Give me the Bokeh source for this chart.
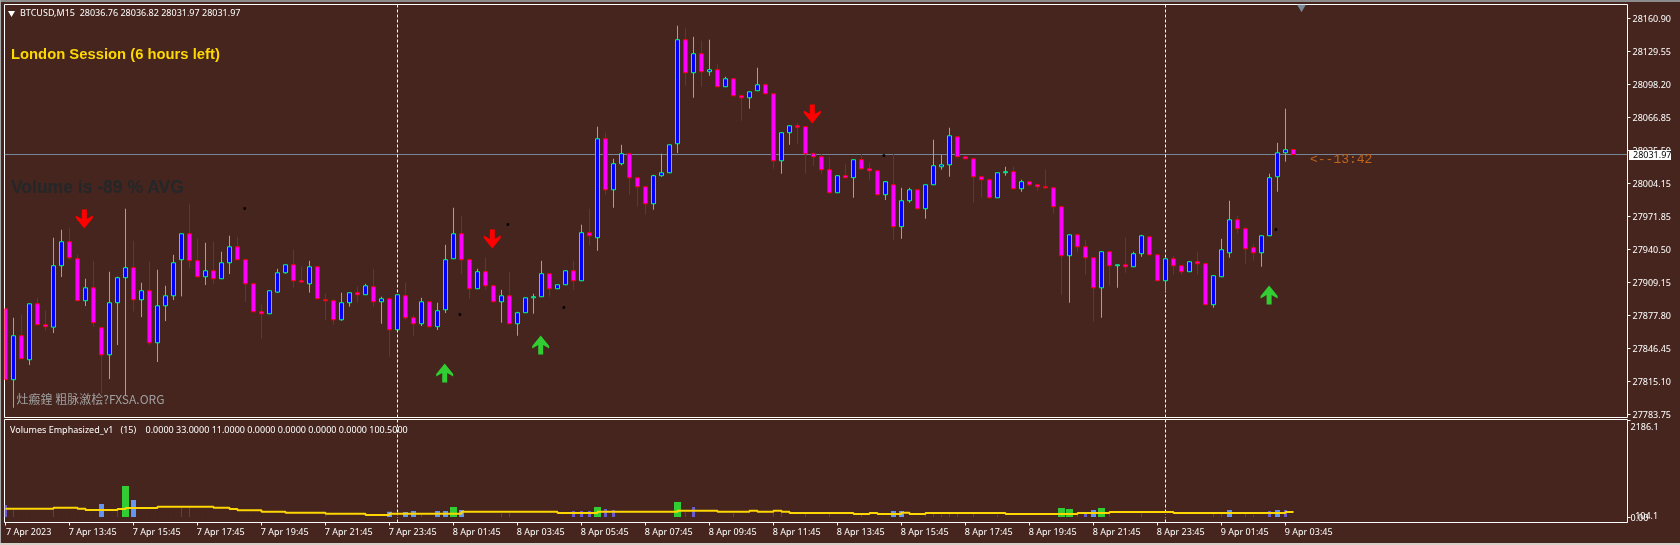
from bokeh.plotting import figure
from bokeh.models import (ColumnDataSource, FixedTicker, Label, Span, LinearAxis, Range1d, Div)
from bokeh.layouts import column
from bokeh.embed import file_html
from bokeh.resources import INLINE

highs = [
27885.3,27876.7,27879.9,27890.0,27895.7,27883.7,27952.8,27960.4,27962.3,27936.6,
27913.8,27930.9,27867.2,27920.5,27915.7,27980.4,27949.9,27910.0,27930.0,27922.4,
27907.1,27936.6,27956.6,27985.1,27951.8,27948.0,27949.0,27939.5,27954.7,27953.7,
27931.9,27909.0,27889.4,27902.4,27923.3,27927.1,27941.4,27925.2,27930.9,27925.2,
27899.5,27894.8,27900.5,27900.5,27906.2,27909.0,27923.3,27896.7,27895.7,27898.6,
27910.0,27879.6,27895.7,27891.9,27891.0,27946.1,27981.3,27973.7,27932.8,27923.3,
27933.8,27908.1,27903.3,27920.5,27882.4,27895.7,27899.5,27930.9,27918.6,27908.1,
27921.4,27930.9,27965.2,27980.4,28058.4,28052.7,28027.9,28041.2,28033.6,28009.9,
28001.3,28012.7,28032.7,28041.2,28154.4,28152.5,28143.9,28140.1,28141.1,28118.3,
28105.9,28105.0,28088.8,28091.6,28114.5,28100.2,28089.7,28052.7,28059.3,28062.2,
28058.4,28034.6,28032.7,28029.8,28011.8,28022.5,28027.0,28032.7,28024.1,28016.5,
28006.1,28032.7,28000.3,28000.3,27998.4,28003.2,28046.0,28031.7,28057.4,28048.8,
28030.8,28028.9,28010.8,28008.0,28014.6,28020.3,28020.3,28008.0,28006.1,28004.1,
28017.5,28000.3,27982.3,27955.6,27955.6,27950.9,27933.8,27939.5,27939.5,27927.1,
27952.8,27939.5,27955.6,27953.7,27936.6,27932.8,27935.7,27926.2,27930.0,27939.5,
27928.1,27916.7,27951.8,27988.0,27973.7,27963.3,27947.1,27954.7,28013.7,28043.1,
28075.5,28036.82]
body_tops = [
27885.3,27859.6,27859.6,27890.0,27890.0,27870.1,27926.2,27949.0,27949.0,27932.8,
27905.2,27905.2,27867.2,27891.0,27914.8,27924.3,27924.3,27902.4,27902.4,27888.1,
27897.6,27929.0,27956.6,27956.6,27930.9,27921.4,27921.4,27929.0,27944.2,27944.2,
27931.9,27909.0,27882.4,27902.4,27919.5,27927.1,27927.1,27911.9,27925.2,27925.2,
27893.8,27892.9,27891.0,27900.5,27900.5,27907.1,27906.2,27894.8,27894.8,27898.6,
27897.6,27876.7,27891.9,27891.9,27883.4,27931.9,27956.6,27956.6,27931.9,27920.5,
27920.5,27907.1,27897.6,27897.6,27881.5,27895.7,27896.7,27918.6,27918.6,27908.1,
27921.4,27921.4,27957.6,27957.6,28046.9,28046.9,28023.2,28032.7,28032.7,28009.9,
28001.3,28011.8,28014.6,28041.2,28141.1,28141.1,28127.8,28127.8,28112.6,28112.6,
28104.0,28104.0,28087.8,28091.6,28098.3,28098.3,28089.7,28052.7,28059.3,28059.3,
28058.4,28032.7,28029.8,28017.5,28011.8,28011.8,28027.0,28027.0,28018.4,28016.5,
28006.1,28003.2,27988.0,27998.4,27998.4,28003.2,28021.3,28022.2,28049.8,28048.8,
28029.8,28027.9,28010.8,28008.0,28014.6,28015.6,28015.6,28006.1,28006.1,28003.2,
28001.3,28000.3,27982.3,27955.6,27955.6,27944.2,27933.8,27939.5,27939.5,27927.1,
27927.1,27937.6,27954.7,27953.7,27936.6,27932.8,27932.8,27926.2,27930.0,27930.0,
27928.1,27916.7,27941.4,27969.9,27969.9,27961.4,27943.3,27954.7,28009.9,28033.6,
28036.5,28036.76]
body_bottoms = [
27817.8,27817.8,27837.7,27836.8,27870.1,27868.2,27867.8,27926.2,27933.8,27892.9,
27892.9,27872.0,27841.5,27841.5,27891.0,27914.8,27893.8,27893.8,27852.9,27852.9,
27888.1,27897.6,27931.9,27931.2,27915.7,27915.7,27913.8,27913.8,27929.0,27931.9,
27909.0,27882.4,27880.5,27880.5,27901.1,27919.5,27911.9,27910.6,27909.0,27894.8,
27892.9,27874.8,27874.8,27891.0,27898.6,27898.6,27891.9,27891.9,27865.3,27865.3,
27876.7,27871.0,27871.0,27868.2,27868.2,27884.3,27932.8,27931.9,27904.3,27904.3,
27907.1,27891.9,27891.9,27871.0,27871.0,27881.5,27895.7,27896.7,27904.3,27904.3,
27908.1,27911.9,27911.9,27954.7,27952.8,27998.4,27998.4,28023.2,28009.9,28001.3,
27985.1,27985.1,28011.8,28014.6,28042.2,28109.7,28109.7,28110.7,28110.7,28096.4,
28096.4,28087.8,28085.9,28085.9,28092.6,28089.7,28026.0,28026.0,28052.7,28058.0,
28032.7,28029.8,28017.5,27995.6,27995.6,28009.9,28009.9,28018.4,28016.5,27993.7,
27993.7,27963.3,27963.3,27988.0,27980.4,27980.4,28003.2,28020.3,28022.2,28029.8,
28027.9,28010.8,28008.0,27990.8,27990.8,28014.6,27999.4,27999.4,28003.2,28001.3,
28000.3,27982.3,27935.7,27935.7,27944.2,27933.8,27905.2,27905.2,27926.2,27926.2,
27925.2,27925.2,27937.6,27936.6,27911.9,27911.9,27926.2,27920.5,27920.5,27928.1,
27889.1,27889.1,27915.7,27938.5,27961.4,27942.3,27938.5,27938.5,27954.7,28010.8,
28033.6,28031.97]
lows = [
27817.8,27791.1,27837.7,27831.7,27870.1,27864.0,27862.1,27915.4,27931.9,27892.9,
27887.8,27867.8,27804.4,27818.4,27850.7,27802.9,27882.7,27877.3,27850.7,27834.6,
27873.5,27893.5,27897.0,27923.9,27914.8,27907.8,27908.7,27913.8,27918.2,27931.9,
27891.6,27882.4,27856.4,27880.5,27900.5,27918.6,27905.2,27910.6,27900.5,27894.8,
27874.8,27870.1,27873.9,27887.2,27891.0,27898.6,27887.2,27871.0,27839.6,27865.3,
27874.8,27859.6,27868.8,27867.2,27865.0,27881.2,27932.8,27918.2,27894.8,27904.3,
27903.3,27891.9,27872.0,27871.0,27859.6,27881.5,27880.5,27896.7,27896.7,27904.3,
27908.1,27903.3,27911.9,27945.8,27940.4,27993.7,27981.3,28021.6,27993.7,27982.3,
27974.7,27979.4,28010.8,28014.6,28033.3,28097.3,28085.9,28096.1,28106.9,28096.4,
28096.4,28087.8,28064.1,28075.5,28092.6,28089.7,28018.4,28013.7,28041.2,28042.2,
28013.7,28021.0,28013.7,27994.6,27995.6,28009.9,27990.8,28017.5,28008.0,27992.7,
27988.6,27950.9,27951.8,27986.1,27979.4,27970.9,28003.2,28017.5,28010.8,28029.8,
28027.9,27986.1,27990.8,27990.8,27990.8,28011.8,27999.4,27996.5,28001.3,27997.5,
27999.4,27975.6,27898.3,27891.0,27939.5,27917.6,27872.9,27876.7,27907.1,27905.2,
27919.5,27925.2,27934.7,27936.6,27911.9,27901.4,27917.6,27917.6,27920.5,27917.6,
27889.1,27886.2,27915.7,27933.8,27956.6,27928.1,27930.9,27925.2,27954.7,27996.5,
28025.1,28031.97]
rising_bars = [1,3,6,7,10,13,14,15,17,19,20,21,22,25,27,28,33,34,35,38,42,43,45,47,49,52,54,55,56,59,
62,64,65,66,67,69,70,72,74,76,77,81,82,83,84,86,88,90,93,94,97,98,104,106,110,112,113,115,116,117,118,
124,125,127,133,137,139,141,142,145,148,151,152,153,157,158,159,160]

volumes = [
272,159,136,136,83,61,159,136,121,98,
98,114,295,98,174,704,386,136,159,189,
83,121,212,212,38,98,45,61,83,98,
83,98,83,53,53,38,53,53,38,53,
38,38,53,38,38,23,38,23,121,38,
114,136,53,38,136,136,227,159,61,61,
61,61,83,98,61,61,61,61,61,61,
61,136,136,136,227,182,159,83,83,68,
68,68,83,83,341,121,227,98,83,83,
68,83,68,68,68,68,98,98,68,68,
68,53,53,68,53,53,53,53,38,38,
38,136,136,53,53,68,68,53,68,68,
53,76,53,53,53,53,53,53,53,53,
53,53,204,182,68,98,159,204,68,53,
53,68,83,53,83,53,53,53,53,53,
53,68,68,159,68,68,53,53,136,159,
159,23]
volume_kinds = (
"psddddsddd" "ddbdsgbddd" "ddssdddddd" "dddddddddd"
"sddddddd" "bd" "bbsdbbgbdd" "ddssdddddd"
"dpppgppddd" "ddddgspddd" "dsddddssdd" "sddsdddsdd"
"dbbddsssss" "dsddsddddd" "ddggspbgsd" "ddsddddddd"
"dssbdssdpb" "pd")
volume_avg = [
189,189,189,189,189,189,212,212,212,189,
159,159,159,159,182,204,204,204,204,235,
235,235,235,235,235,235,212,212,182,151,
151,151,121,121,121,98,98,98,98,98,
76,76,76,76,76,45,45,45,76,76,
76,76,76,76,76,76,76,121,121,121,
121,121,121,121,121,121,121,121,121,91,
91,91,91,91,121,121,121,121,121,121,
121,121,121,121,144,144,144,144,144,121,
121,121,121,144,121,121,144,121,91,91,
91,91,91,91,91,91,68,68,91,68,
68,68,98,68,68,91,91,91,91,91,
91,91,91,91,91,68,68,68,68,68,
68,68,68,68,91,91,91,91,114,114,
114,114,114,114,114,114,91,91,91,91,
91,91,91,91,91,91,91,91,91,91,
114,114]

price_labels = ["28160.90","28129.55","28098.20","28066.85","28035.50","28004.15","27971.85","27940.50",
                "27909.15","27877.80","27846.45","27815.10","27783.75"]
time_ticks = list(range(0,168,8))
time_labels = ["7 Apr 2023","7 Apr 13:45","7 Apr 15:45","7 Apr 17:45","7 Apr 19:45","7 Apr 21:45","7 Apr 23:45",
"8 Apr 01:45","8 Apr 03:45","8 Apr 05:45","8 Apr 07:45","8 Apr 09:45","8 Apr 11:45","8 Apr 13:45","8 Apr 15:45",
"8 Apr 17:45","8 Apr 19:45","8 Apr 21:45","8 Apr 23:45","9 Apr 01:45","9 Apr 03:45"]
session_bars = [49,145]
last_price = 28031.97
sell_bars, sell_tail = [9.85,60.85,100.85],[27979.7,27960.7,28079.6]
buy_bars, buy_tail = [54.9,66.9,157.95],[27815.2,27841.8,27889.4]
dot_bars = [29.9,62.8,56.8,69.8,109.8,158.8]
dot_prices = [27980.7,27965.5,27879.9,27886.5,28031.1,27960.7]

BG = "#45251E"; WHITE = "#FFFFFF"; FONT = "Noto Sans"; SMALL = "9px"

X = lambda px: (px - 5.5) / 8                  # page pixel -> bar index
P = lambda py: 28178.5 - 0.951 * (py - 0.42)   # page pixel -> price
V = lambda py: (517 - py) / 0.04405            # page pixel -> volume

n = len(highs)
assert all(len(a) == n for a in (body_tops, body_bottoms, lows, volumes, volume_avg)), "len"
assert len(volume_kinds) == n, len(volume_kinds)
idx = list(range(n))
up = [i in rising_bars for i in idx]
def sel(a, flag): return [v for v, f in zip(a, up) if f == flag]

xr = Range1d(X(4.5), X(1627.5))

main = figure(frame_width=1623, frame_height=413, x_range=xr, y_range=Range1d(P(417.5), P(4.5)),
              output_backend="svg", toolbar_location=None, y_axis_location="right", x_axis_location=None,
              min_border_left=4, min_border_right=53, min_border_top=4, min_border_bottom=4,
              background_fill_color=BG, border_fill_color=BG, outline_line_color=WHITE, outline_line_width=1,
              styles={"position": "fixed", "left": "0px", "top": "0px"})
main.grid.visible = False

main.add_layout(Span(location=last_price, dimension="width", line_color="#778899", line_width=1, level="underlay"))
for b in session_bars:
    main.add_layout(Span(location=b, dimension="height", line_color=WHITE, line_width=1, line_dash="3 2", level="underlay"))

for flag, wick, edge, fill in ((True, "#2EE08C", "#00FF7F", "#0000FF"), (False, "#E00000", "#FF0000", "#FF00FF")):
    src = ColumnDataSource(dict(x=sel(idx, flag), h=sel(highs, flag), l=sel(lows, flag),
                                t=sel(body_tops, flag), b=sel(body_bottoms, flag)))
    main.segment("x", "h", "x", "l", source=src, line_color=wick, line_width=1)
    main.vbar("x", 0.5, "t", "b", source=src, fill_color=fill, line_color=edge, line_width=1)

main.scatter(dot_bars, dot_prices, marker="square", size=2.5, fill_color="#000000", line_color=None)

# arrow outline, in pixels from the middle of its tail, pointing down
ARROW = [(-2.5, 0), (2.5, 0), (2.5, 9.5), (8.5, 6), (8.5, 8.5), (0, 19), (-8.5, 8.5), (-8.5, 6), (-2.5, 9.5)]
for bars, tails, col, sign in ((sell_bars, sell_tail, "#FF0000", -1), (buy_bars, buy_tail, "#32CD32", 1)):
    main.patches([[b + dx / 8 for dx, _ in ARROW] for b in bars],
                 [[t + sign * dy * 0.951 for _, dy in ARROW] for t in tails],
                 fill_color=col, line_color=None)

main.scatter([162], [P(7)], marker="inverted_triangle", size=9, fill_color="#778899", line_color=None)
main.scatter([X(11.5)], [P(13)], marker="inverted_triangle", size=7, fill_color=WHITE, line_color=None)

price_tick_at = [P(py) for py in (18.3, 51.7, 84.7, 117.7, 150.7, 183.7, 216.7, 249.7, 282.7, 315.7, 348.7, 381.3, 414.3)]
ax = main.yaxis[0]
ax.ticker = FixedTicker(ticks=price_tick_at)
ax.major_label_overrides = dict(zip(price_tick_at, price_labels))
ax.axis_line_color = None
ax.major_tick_line_color = WHITE; ax.major_tick_out = 3; ax.major_tick_in = 0; ax.minor_tick_line_color = None
ax.major_label_text_color = WHITE; ax.major_label_text_font = FONT; ax.major_label_text_font_size = SMALL
ax.major_label_standoff = 2

def text(fig, s, x, y, color, size, font=FONT, style="normal"):
    fig.add_layout(Label(x=x, y=y, text=s, text_color=color, text_font=font, text_font_size=size,
                         text_font_style=style, text_baseline="middle", text_align="left"))

text(main, "BTCUSD,M15\u00a0\u00a028036.76 28036.82 28031.97 28031.97", X(20), P(12.5), WHITE, SMALL)
text(main, "London Session (6 hours left)", X(11), P(54), "#FFD700", "14.8px", "Liberation Sans", "bold")
text(main, "Volume is -89 % AVG", X(11), P(187), "#24272A", "17.5px", "Liberation Sans", "bold")
text(main, "灶瘢鍠 粗脉漵桧?FXSA.ORG", X(16.5), P(398), "#A0A0A0", "12px", "Noto Sans CJK SC")
text(main, "<--13:42", X(1310), P(159.5), "#C0651E", "13px", "Liberation Mono")

# ---------- volume panel ----------
sub = figure(frame_width=1623, frame_height=103, x_range=xr, y_range=Range1d(V(522.5), V(419.5)),
             output_backend="svg", toolbar_location=None, y_axis_location="right",
             min_border_left=4, min_border_right=53, min_border_top=0, min_border_bottom=23,
             background_fill_color=BG, border_fill_color=BG, outline_line_color=WHITE, outline_line_width=1,
             styles={"position": "fixed", "left": "0px", "top": "419px"})
sub.grid.visible = False

for b in session_bars:
    sub.add_layout(Span(location=b, dimension="height", line_color=WHITE, line_width=1, line_dash="3 2", level="underlay"))

KIND_COLOR = {"d": "#2D2A29", "s": "#483D8B", "p": "#6A5ACD", "b": "#6495ED", "g": "#32CD32"}
KIND_WIDTH = {"d": 1/8, "s": 1/8, "p": 3/8, "b": 5/8, "g": 7/8}
vsrc = ColumnDataSource(dict(x=idx, v=volumes, c=[KIND_COLOR[k] for k in volume_kinds],
                             w=[KIND_WIDTH[k] for k in volume_kinds]))
sub.vbar("x", "w", "v", 0, source=vsrc, fill_color="c", line_color=None)
sub.step(idx, volume_avg, mode="after", line_color="#FFD700", line_width=2)

xa = sub.xaxis[0]
xa.ticker = FixedTicker(ticks=time_ticks)
xa.major_label_overrides = {t: "" for t in time_ticks}
xa.major_label_text_font_size = "1px"
xa.major_label_standoff = 0
xa.axis_line_color = None
xa.major_tick_line_color = WHITE; xa.major_tick_out = 3; xa.major_tick_in = 0; xa.minor_tick_line_color = None

label_at = [t + 2.9 for t in time_ticks]
xb = LinearAxis(ticker=FixedTicker(ticks=label_at), major_label_overrides=dict(zip(label_at, time_labels)),
                axis_line_color=None, major_tick_line_color=None, minor_tick_line_color=None,
                major_tick_out=0, major_tick_in=0, major_label_standoff=-1,
                major_label_text_color=WHITE, major_label_text_font=FONT, major_label_text_font_size=SMALL)
sub.add_layout(xb, "below")

ya = sub.yaxis[0]
ya.ticker = FixedTicker(ticks=[2186.1, 0])
ya.major_label_overrides = {2186.1: "", 0: ""}
ya.major_label_text_font_size = "1px"
ya.major_label_standoff = 0
ya.axis_line_color = None
ya.major_tick_line_color = WHITE; ya.major_tick_out = 3; ya.major_tick_in = 0; ya.minor_tick_line_color = None

y_label_at = [V(426.7), V(517.3), V(515.7)]
yb = LinearAxis(ticker=FixedTicker(ticks=y_label_at),
                major_label_overrides=dict(zip(y_label_at, ["2186.1", "0.00", "\u00a0\u00a0104.1"])),
                axis_line_color=None, major_tick_line_color=None, minor_tick_line_color=None,
                major_tick_out=0, major_tick_in=0, major_label_standoff=0,
                major_label_text_color=WHITE, major_label_text_font=FONT, major_label_text_font_size=SMALL)
sub.add_layout(yb, "right")

text(sub, "Volumes Emphasized_v1\u00a0\u00a0\u00a0(15)\u00a0\u00a0\u00a0\u00a00.0000 33.0000 11.0000 0.0000 0.0000 0.0000 0.0000 100.5000",
     X(10), V(429), WHITE, SMALL)

def strip(left, top, w, h, bg, s="", **extra):
    return Div(text=s, width=w, height=h, margin=0,
               styles={"position": "fixed", "left": f"{left}px", "top": f"{top}px", "background-color": bg, "z-index": "10", **extra})

price_box = strip(1629, 150, 42, 10, WHITE, f"{last_price:.2f}", **{"color": "#000000", "font-family": FONT, "font-size": SMALL,
                  "line-height": "10px", "padding-left": "4px", "white-space": "nowrap"})

page = column(main, sub, price_box, strip(0, 0, 1680, 2, "#8C8C8C"), strip(0, 0, 1, 545, "#A8A8A8"), strip(0, 543, 1680, 2, "#D4D0C8"))
open("out.html", "w").write(file_html(page, INLINE))
